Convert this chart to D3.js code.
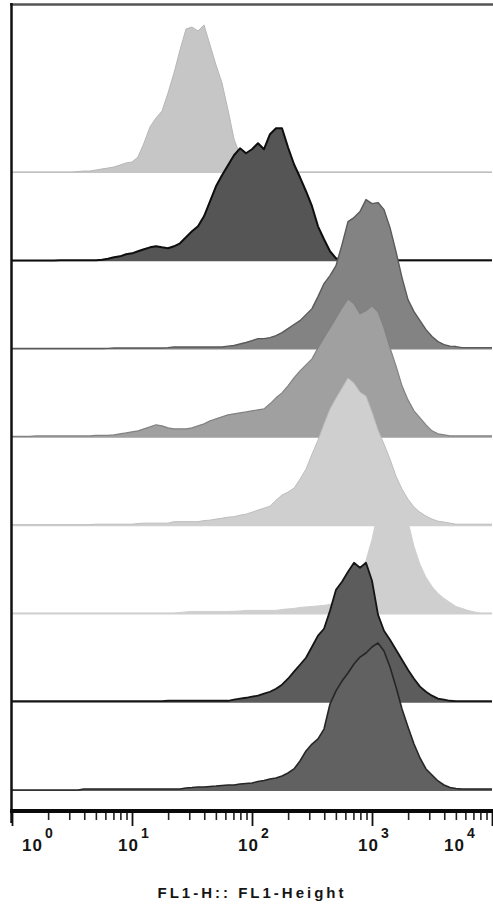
<!DOCTYPE html>
<html>
<head>
<meta charset="utf-8">
<script src="https://cdn.jsdelivr.net/npm/d3@7"></script>
<style>
  body { margin: 0; background: #fff; }
  svg { display: block; }
  text { font-family: "Liberation Sans", Arial, sans-serif; fill: #151515; }
</style>
</head>
<body>
<svg id="chart" width="493" height="910"></svg>
<script>
// canales (log10 de FL1-H)
var binLog = [0,0.05,0.1,0.15,0.2,0.25,0.3,0.35,0.4,0.45,
  0.5,0.55,0.6,0.65,0.7,0.75,0.8,0.85,0.9,0.95,
  1,1.05,1.1,1.15,1.2,1.25,1.3,1.35,1.4,1.45,
  1.5,1.55,1.6,1.65,1.7,1.75,1.8,1.85,1.9,1.95,
  2,2.05,2.1,2.15,2.2,2.25,2.3,2.35,2.4,2.45,
  2.5,2.55,2.6,2.65,2.7,2.75,2.8,2.85,2.9,2.95,
  3,3.05,3.1,3.15,3.2,3.25,3.3,3.35,3.4,3.45,
  3.5,3.55,3.6,3.65,3.7,3.75,3.8,3.85,3.9,3.95,
  4];

var decadas = [1, 10, 100, 1000, 10000];
var exponentes = ["0", "1", "2", "3", "4"];
var tituloX = "FL1-H:: FL1-Height";

// % del maximo, una fila por cada 10 canales
var h1 = [0.7,0.7,0.7,0.7,0.7,0.7,0.7,0.7,0.7,0.7,
  0.7,1,1.3,1.3,2,2.7,3.3,4,5.3,6.7,
  7.3,10.7,20,30.7,36.7,41.3,53.3,66.7,82,96,
  97.3,94.7,98.7,85.3,72,60,42,22.7,12,5.3,
  2,1,0.7,0.7,0.7,0.7,0.7,0.7,0.7,0.7,
  0.7,0.7,0.7,0.7,0.7,0.7,0.7,0.7,0.7,0.7,
  0.7,0.7,0.7,0.7,0.7,0.7,0.7,0.7,0.7,0.7,
  0.7,0.7,0.7,0.7,0.7,0.7,0.7,0.7,0.7,0.7,
  0.7];
var h2 = [0.5,0.5,0.5,0.5,0.5,0.5,0.5,0.5,0.7,0.7,
  0.7,0.7,0.7,0.7,0.7,1,1.7,2.7,3.3,4.7,
  5.3,6.7,8,9.3,10,9.3,8.7,10,12,16,
  20,23.3,30,40,50,57.3,64,70.7,75.3,72,
  74.7,78.7,74.7,84.7,88.7,88.7,76,64.7,56,46.7,
  36.7,23.3,14.7,6.7,2,0.7,0.7,0.7,0.7,0.7,
  0.7,0.7,0.7,0.7,0.7,0.7,0.7,0.7,0.7,0.7,
  0.7,0.7,0.7,0.7,0.7,0.7,0.7,0.7,0.7,0.7,
  0.7];
var h3 = [0.7,0.7,0.7,0.7,0.7,0.7,0.7,0.7,0.7,0.7,
  0.7,0.7,0.7,0.7,0.7,0.7,0.8,1,1,1,
  1,1,1,1,1,1,1.3,1.7,1.7,1.7,
  1.7,1.7,1.7,1.7,1.7,1.7,2.3,2.7,3.7,4.7,
  6,7.3,7.3,8,9.3,11.3,14,16.7,19.3,23.3,
  27.3,35.3,44,49.3,56,70,85.3,88,92,100,
  97.3,98,93.3,81.3,65.3,48,33.3,25.3,19.3,13.3,
  8.7,5.3,3.3,2.3,2,1.3,1.3,1.3,1.3,1.3,
  1.3];
var h4 = [1,1,1,1,1.3,1.3,1.3,1.3,1.3,1.3,
  1.3,1.3,1.3,1.3,1.7,1.7,1.7,2,2.7,3.3,
  4,4.7,6,7.3,8.7,8,6.7,6,6,6,
  6.7,8,9.3,11.3,12.7,14,15.3,16,16.7,17.3,
  18,18.7,19.3,22.7,26.7,30,34.7,40,44.7,48.7,
  52.7,60,66.7,73.3,80,86.7,92.7,89.3,82.7,84.7,
  88,84,73.3,60,48,34.7,25.3,18,13.3,8.7,
  4.7,2.7,2,1.3,1.3,1.3,1.3,1.3,1.3,1.3,
  1.3];
var h5 = [1,1,1,1,1,1,1,1,1,1,
  1,1,1,1,1.3,1.3,1.3,1.3,1.3,1.3,
  1.3,1.7,2,2,2,2,2,3,3,3,
  3,3,3.7,4,4.7,5.3,6,6.3,7.3,8,
  9.3,10.7,12,13.3,17.3,20.7,22.7,25.3,31.3,38,
  48,57.3,68,78,85.3,92,98.7,95.3,89.3,86.7,
  76,64,54.7,44.7,33.3,24.7,18,12.7,9.3,6.7,
  4.7,3.3,2.7,2,1.3,1.3,1.3,1.3,1.3,1.3,
  1.3];
var h6 = [1,1,1,1,1,1,1,1,1,1,
  1,1,1,1,1,1,1,1,1,1,
  1,1,1,1,1,1,1,1,1.3,1.7,
  2,2,2,2,2,2,2,2.1,2.3,2.7,
  2.7,2.7,2.7,2.7,2.7,3.3,3.7,4,4.7,5,
  5.3,5.7,6,6.7,8.7,11.3,14.7,20,26.7,36,
  50,68.7,88,90,82,72,62,45.3,33.3,24.7,
  18.7,14,10.7,8,5.3,4,2.7,1.7,1,1,
  1];
var h7 = [1,1,1,1,1,1,1,1,1,1,
  1,1,1,1,1,1,1,1,1,1,
  1,1,1,1,1,1,1.3,1.3,1.3,1.3,
  1.3,1.3,1.3,1.3,1.3,1.3,1.3,2,2.7,3.3,
  4,4.7,6,7.3,9.3,12,16,20.7,25.3,30,
  37.3,44.7,49.3,61.3,75.3,80.7,87.3,93.3,90,93.3,
  81.3,58.7,48,42,35.3,28.7,22,16,10.7,7.3,
  4.7,2.7,2,1.3,1,1,1,1,1,1,
  1];
var h8 = [0.7,0.7,0.7,0.7,0.7,0.7,0.7,0.7,0.7,0.7,
  0.7,0.7,1.3,1.3,1.3,1.3,1.3,1.3,1.3,1.3,
  1.3,1.3,1.3,1.3,1.3,1.3,1.3,1.3,1.3,2,
  2.3,2.7,2.7,3,3.3,3.7,4,4,4.7,5,
  5.3,6.3,7,8,8.7,10,12,14.7,20,26.7,
  31.3,34.7,41.3,58,66.7,73.3,78.7,84.7,89.3,92,
  96,98.7,93.3,82.7,69.3,54.7,42.7,31.3,22,14.7,
  10.7,6.7,4,2.3,1.7,1.3,1.3,1.3,1.3,1.3,
  1.3];

var series = [h1, h2, h3, h4, h5, h6, h7, h8];

// estilos de cada histograma
var rellenos = ["#c6c6c6", "#555555", "#838383", "#a0a0a0", "#cfcfcf", "#cfcfcf", "#5c5c5c", "#616161"];
var bordes = ["#b6b6b6", "#0e0e0e", "#5a5a5a", "#828282", "#bdbdbd", "#cfcfcf", "#151515", "#262626"];
var grosores = [1, 2, 1.4, 1.2, 1, 1, 1.8, 1.6];

var svg = d3.select("#chart");

var x = d3.scaleLog().domain([1, 1e4]).range([12, 492]);
var carril = d3.scaleLinear().domain([0, series.length - 1]).range([173, 791]);
var alto = d3.scaleLinear().domain([0, 100]).range([0, 150]);

var graf = svg.append("g");

series.forEach(function (valores, k) {
    var base = carril(k);
    var datos = valores.map(function (v, i) { return { c: Math.pow(10, binLog[i]), v: v }; });

    var area = d3.area()
        .x(function (d) { return x(d.c); })
        .y0(base)
        .y1(function (d) { return base - alto(d.v); });
    var linea = d3.line()
        .x(function (d) { return x(d.c); })
        .y(function (d) { return base - alto(d.v); });

    var g = graf.append("g").attr("class", "histo");
    g.append("path")
        .datum(datos)
        .attr("d", area)
        .style("fill", rellenos[k]);
    g.append("path")
        .datum(datos)
        .attr("d", linea)
        .style("fill", "none")
        .style("stroke", bordes[k])
        .style("stroke-width", grosores[k])
        .style("stroke-linejoin", "round");
});

// marco: arriba e izquierda
svg.append("line")
    .attr("x1", 10).attr("x2", 493).attr("y1", 4.5).attr("y2", 4.5)
    .style("stroke", "#555").style("stroke-width", 2.5);
svg.append("line")
    .attr("x1", 11.5).attr("x2", 11.5).attr("y1", 3).attr("y2", 823)
    .style("stroke", "#111").style("stroke-width", 2.5);

// eje X
var yEje = 811;
var menores = x.ticks().filter(function (t) { return decadas.indexOf(t) < 0; });

svg.append("g")
    .attr("transform", "translate(0," + (yEje + 1) + ")")
    .call(d3.axisBottom(x).tickValues(menores).tickSize(8).tickSizeOuter(0).tickFormat(""))
    .call(function (g) { g.select(".domain").remove(); })
    .selectAll("line").style("stroke", "#222").style("stroke-width", 1.6);

svg.append("g")
    .attr("transform", "translate(0," + (yEje + 1) + ")")
    .call(d3.axisBottom(x).tickValues(decadas).tickSize(14).tickSizeOuter(0).tickFormat(""))
    .call(function (g) { g.select(".domain").remove(); })
    .selectAll("line").style("stroke", "#111").style("stroke-width", 1.8);

svg.append("line")
    .attr("x1", 10).attr("x2", 493).attr("y1", yEje).attr("y2", yEje)
    .style("stroke", "#0a0a0a").style("stroke-width", 4);

// etiquetas 10^n
var etiquetas = svg.append("g");
decadas.forEach(function (d, i) {
    var cx = Math.max(33, Math.min(455, x(d) - 3));
    var t = etiquetas.append("text")
        .attr("x", cx - 11)
        .attr("y", 851)
        .style("font-size", "17px")
        .style("font-weight", "bold")
        .style("letter-spacing", "1px");
    t.append("tspan").text("10");
    t.append("tspan")
        .attr("dx", 2)
        .attr("dy", -13)
        .style("font-size", "14px")
        .text(exponentes[i]);
});

svg.append("text")
    .attr("x", 252)
    .attr("y", 898)
    .attr("text-anchor", "middle")
    .style("font-size", "15px")
    .style("font-weight", "bold")
    .style("letter-spacing", "3px")
    .text(tituloX);
</script>
</body>
</html>
